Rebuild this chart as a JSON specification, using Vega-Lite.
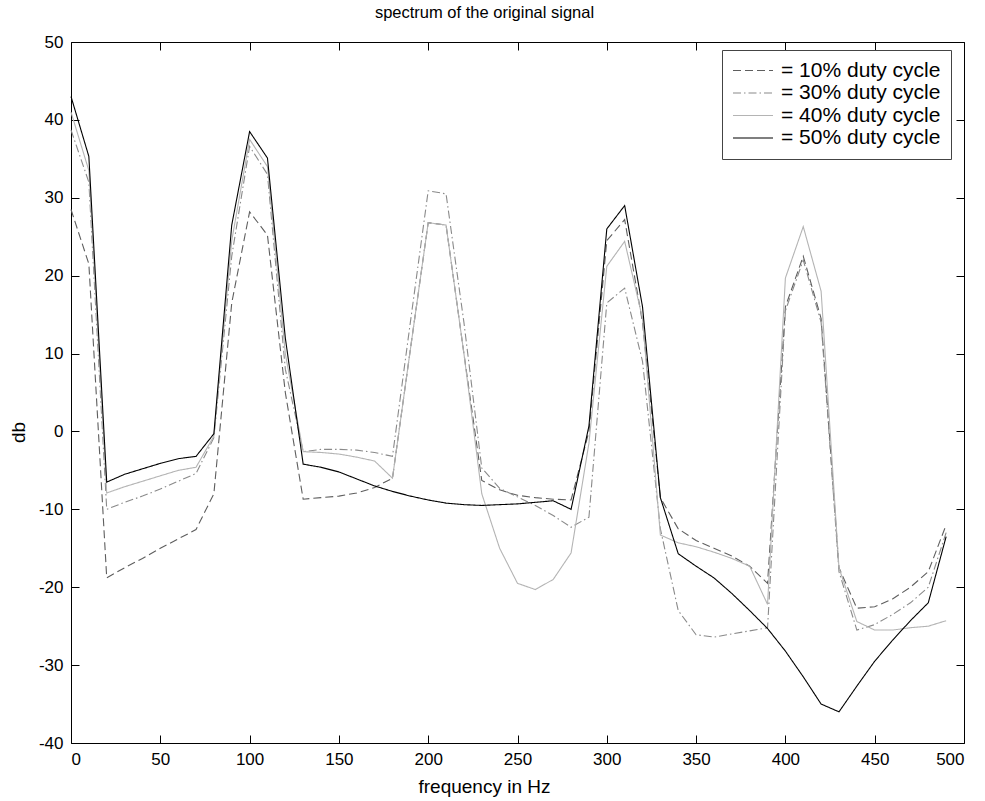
{
  "$schema": "https://vega.github.io/schema/vega-lite/v6.json",
  "width": 893,
  "height": 701,
  "autosize": {"type": "none"},
  "padding": {"left": 71, "top": 42, "right": 21, "bottom": 58},
  "background": "white",
  "title": {"text": "spectrum of the original signal", "fontSize": 16.5, "font": "Liberation Sans", "fontWeight": "normal", "color": "black", "offset": 12, "dx": -33},
  "config": {
    "view": {"stroke": "black", "strokeWidth": 1},
    "axis": {"grid": false, "domain": false, "tickColor": "black", "tickSize": -8, "labelFont": "Liberation Sans", "labelFontSize": 17, "labelColor": "black", "labelPadding": 16, "labelExpr": "datum.value + ''", "titleFont": "Liberation Sans", "titleFontSize": 19, "titleFontWeight": "normal", "titleColor": "black"}
  },
  "data": {
    "values": [
      {"f": 0, "d10": 28.5, "d30": 38.7, "d40": 41.0, "d50": 43.0},
      {"f": 10, "d10": 21.5, "d30": 32.0, "d40": 33.5, "d50": 35.3},
      {"f": 20, "d10": -18.8, "d30": -10.0, "d40": -7.9, "d50": -6.5},
      {"f": 30, "d10": -17.5, "d30": -9.1, "d40": -7.1, "d50": -5.5},
      {"f": 40, "d10": -16.3, "d30": -8.3, "d40": -6.4, "d50": -4.8},
      {"f": 50, "d10": -15.0, "d30": -7.4, "d40": -5.7, "d50": -4.1},
      {"f": 60, "d10": -13.8, "d30": -6.4, "d40": -5.0, "d50": -3.5},
      {"f": 70, "d10": -12.6, "d30": -5.4, "d40": -4.6, "d50": -3.2},
      {"f": 80, "d10": -8.0, "d30": -0.8, "d40": -0.6, "d50": -0.3},
      {"f": 90, "d10": 16.5, "d30": 22.5, "d40": 24.5, "d50": 26.5},
      {"f": 100, "d10": 28.2, "d30": 36.6, "d40": 37.5, "d50": 38.5},
      {"f": 110, "d10": 25.2, "d30": 33.0, "d40": 34.0, "d50": 35.1},
      {"f": 120, "d10": 5.0, "d30": 8.0, "d40": 10.0, "d50": 12.0},
      {"f": 130, "d10": -8.7, "d30": -2.6, "d40": -2.6, "d50": -4.2},
      {"f": 140, "d10": -8.5, "d30": -2.3, "d40": -2.7, "d50": -4.6},
      {"f": 150, "d10": -8.3, "d30": -2.3, "d40": -2.9, "d50": -5.2},
      {"f": 160, "d10": -7.9, "d30": -2.4, "d40": -3.3, "d50": -6.1},
      {"f": 170, "d10": -7.2, "d30": -2.7, "d40": -3.8, "d50": -7.0},
      {"f": 180, "d10": -6.0, "d30": -3.2, "d40": -6.0, "d50": -7.7},
      {"f": 190, "d10": 10.5, "d30": 14.0, "d40": 10.5, "d50": -8.3},
      {"f": 200, "d10": 26.8, "d30": 30.9, "d40": 26.8, "d50": -8.8},
      {"f": 210, "d10": 26.5, "d30": 30.5, "d40": 26.5, "d50": -9.2},
      {"f": 220, "d10": 10.0, "d30": 14.0, "d40": 10.0, "d50": -9.4},
      {"f": 230, "d10": -6.3, "d30": -4.7, "d40": -8.0, "d50": -9.5},
      {"f": 240, "d10": -7.5, "d30": -7.3, "d40": -15.0, "d50": -9.4},
      {"f": 250, "d10": -8.2, "d30": -8.4, "d40": -19.5, "d50": -9.3},
      {"f": 260, "d10": -8.5, "d30": -9.5, "d40": -20.3, "d50": -9.1},
      {"f": 270, "d10": -8.7, "d30": -10.8, "d40": -19.0, "d50": -8.9},
      {"f": 280, "d10": -8.8, "d30": -12.3, "d40": -15.6, "d50": -10.0},
      {"f": 290, "d10": 0.0, "d30": -11.0, "d40": -1.5, "d50": 0.7},
      {"f": 300, "d10": 24.5, "d30": 16.5, "d40": 21.2, "d50": 26.0},
      {"f": 310, "d10": 27.2, "d30": 18.4, "d40": 24.4, "d50": 29.0},
      {"f": 320, "d10": 14.0, "d30": 9.0, "d40": 14.5, "d50": 16.0},
      {"f": 330, "d10": -8.5, "d30": -12.5, "d40": -13.3, "d50": -8.5},
      {"f": 340, "d10": -12.5, "d30": -23.0, "d40": -14.3, "d50": -15.7},
      {"f": 350, "d10": -14.0, "d30": -26.1, "d40": -14.8, "d50": -17.3},
      {"f": 360, "d10": -15.0, "d30": -26.4, "d40": -15.5, "d50": -18.8},
      {"f": 370, "d10": -16.0, "d30": -26.0, "d40": -16.3, "d50": -20.8},
      {"f": 380, "d10": -17.3, "d30": -25.6, "d40": -17.3, "d50": -23.0},
      {"f": 390, "d10": -19.5, "d30": -25.2, "d40": -22.2, "d50": -25.3},
      {"f": 400, "d10": 16.0, "d30": 15.5, "d40": 19.7, "d50": -28.2},
      {"f": 410, "d10": 22.5, "d30": 22.0, "d40": 26.3, "d50": -31.5},
      {"f": 420, "d10": 14.5, "d30": 14.0, "d40": 18.0, "d50": -35.0},
      {"f": 430, "d10": -17.5, "d30": -18.0, "d40": -17.5, "d50": -36.0},
      {"f": 440, "d10": -22.7, "d30": -25.5, "d40": -24.4, "d50": -32.7},
      {"f": 450, "d10": -22.5, "d30": -24.8, "d40": -25.5, "d50": -29.5},
      {"f": 460, "d10": -21.5, "d30": -23.5, "d40": -25.5, "d50": -26.8},
      {"f": 470, "d10": -20.0, "d30": -22.0, "d40": -25.2, "d50": -24.3},
      {"f": 480, "d10": -18.0, "d30": -20.0, "d40": -25.0, "d50": -22.0},
      {"f": 490, "d10": -12.0, "d30": -13.0, "d40": -24.3, "d50": -13.5}
    ]
  },
  "transform": [{"fold": ["d10", "d30", "d40", "d50"], "as": ["cycle", "db"]}],
  "layer": [
    {
      "mark": {"type": "line", "strokeWidth": 1.1},
      "encoding": {
        "x": {"field": "f", "type": "quantitative", "scale": {"domain": [0, 500], "nice": false}, "axis": {"orient": "bottom", "values": [0, 50, 100, 150, 200, 250, 300, 350, 400, 450, 500], "title": "frequency in Hz", "titlePadding": 10, "titleX": 413}},
        "y": {"field": "db", "type": "quantitative", "scale": {"domain": [-40, 50], "nice": false}, "axis": {"orient": "left", "values": [-40, -30, -20, -10, 0, 10, 20, 30, 40, 50], "title": "db", "titlePadding": 10, "titleY": 390}},
        "color": {"field": "cycle", "type": "nominal", "scale": {"domain": ["d10", "d30", "d40", "d50"], "range": ["#5e5e5e", "#8a8a8a", "#b4b4b4", "#000000"]},
          "legend": {"orient": "none", "legendX": 651, "legendY": 8, "title": null, "strokeColor": "#444444", "fillColor": "white", "padding": 10, "symbolType": "stroke", "symbolSize": 1600, "symbolStrokeWidth": 1.1, "labelFont": "Liberation Sans", "labelFontSize": 21, "labelColor": "black", "labelOffset": 7, "clipHeight": 21, "rowPadding": 0.5,
            "labelExpr": "{'d10': '= 10% duty cycle', 'd30': '= 30% duty cycle', 'd40': '= 40% duty cycle', 'd50': '= 50% duty cycle'}[datum.label]"}},
        "strokeDash": {"field": "cycle", "type": "nominal", "scale": {"domain": ["d10", "d30", "d40", "d50"], "range": [[8, 4], [8, 3, 1.5, 3], [1, 0], [1, 0]]}, "legend": null}
      }
    },
    {
      "mark": {"type": "line", "opacity": 0},
      "encoding": {
        "x": {"field": "f", "type": "quantitative", "scale": {"domain": [0, 500], "nice": false}, "axis": {"orient": "top", "values": [0, 50, 100, 150, 200, 250, 300, 350, 400, 450, 500], "labels": false, "title": null}},
        "y": {"field": "db", "type": "quantitative", "scale": {"domain": [-40, 50], "nice": false}, "axis": {"orient": "right", "values": [-40, -30, -20, -10, 0, 10, 20, 30, 40, 50], "labels": false, "title": null}},
        "detail": {"field": "cycle"}
      }
    }
  ],
  "resolve": {"axis": {"x": "independent", "y": "independent"}}
}
